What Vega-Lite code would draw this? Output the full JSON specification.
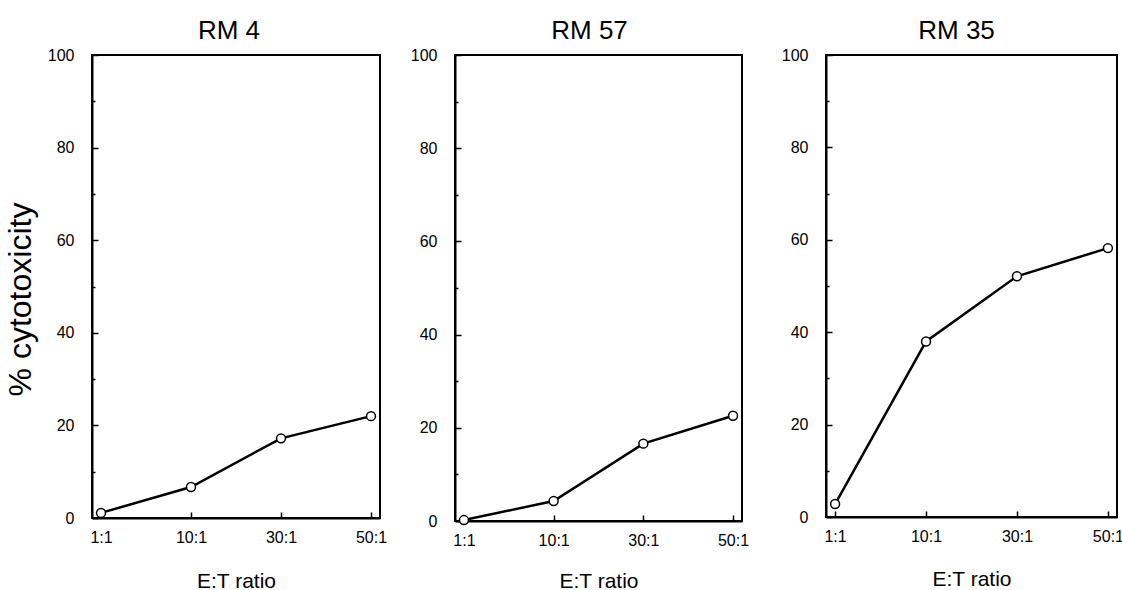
{
  "$schema": "https://vega.github.io/schema/vega-lite/v6.json",
  "background": "white",
  "padding": {"left": 3, "top": 17, "right": 0, "bottom": 0},
  "bounds": "flush",
  "config": {
    "font": "Liberation Sans",
    "view": {"stroke": "black", "strokeWidth": 2},
    "title": {"fontSize": 26, "fontWeight": "normal", "color": "black", "font": "Liberation Sans", "offset": 3},
    "axis": {
      "labelFont": "Liberation Sans",
      "titleFont": "Liberation Sans",
      "labelColor": "black",
      "titleColor": "black",
      "domainColor": "black",
      "tickColor": "black",
      "grid": false,
      "labelFontSize": 16,
      "titleFontWeight": "normal"
    }
  },
  "data": {
    "values": [
      {"cell": "RM 4", "ratio": "1:1", "cyto": 1.1},
      {"cell": "RM 4", "ratio": "10:1", "cyto": 6.7},
      {"cell": "RM 4", "ratio": "30:1", "cyto": 17.2},
      {"cell": "RM 4", "ratio": "50:1", "cyto": 22.0},
      {"cell": "RM 57", "ratio": "1:1", "cyto": 0.2},
      {"cell": "RM 57", "ratio": "10:1", "cyto": 4.3},
      {"cell": "RM 57", "ratio": "30:1", "cyto": 16.6},
      {"cell": "RM 57", "ratio": "50:1", "cyto": 22.6},
      {"cell": "RM 35", "ratio": "1:1", "cyto": 2.8},
      {"cell": "RM 35", "ratio": "10:1", "cyto": 38.0},
      {"cell": "RM 35", "ratio": "30:1", "cyto": 52.1},
      {"cell": "RM 35", "ratio": "50:1", "cyto": 58.2}
    ]
  },
  "spacing": 75,
  "hconcat": [
    {
      "width": 288,
      "height": 463,
      "title": {"text": "RM 4", "dx": -7},
      "transform": [{"filter": "datum.cell == 'RM 4'"}],
      "encoding": {
        "x": {"field": "ratio", "type": "ordinal", "sort": ["1:1", "10:1", "30:1", "50:1"], "scale": {"type": "point", "padding": 0.1},
          "axis": {"title": "E:T ratio", "titleFontSize": 21, "titlePadding": 25, "labelAngle": 0, "tickSize": -6, "tickWidth": 1.5, "domainWidth": 2, "labelPadding": 17, "labelFontSize": 16}},
        "y": {"field": "cyto", "type": "quantitative", "scale": {"domain": [0, 100], "nice": false},
          "axis": {"title": "% cytotoxicity", "titleFontSize": 32, "titlePadding": 10, "titleY": 244, "values": [0, 10, 20, 30, 40, 50, 60, 70, 80, 90, 100],
            "labelExpr": "datum.value % 20 == 0 ? datum.label : ''",
            "tickSize": {"condition": {"test": "datum.value % 20 != 0", "value": -3}, "value": -6},
            "tickWidth": 1.5, "domainWidth": 2, "labelPadding": 24, "labelFontSize": 16}}
      },
      "layer": [
        {"mark": {"type": "line", "color": "black", "strokeWidth": 2.5}},
        {"mark": {"type": "point", "shape": "circle", "size": 80, "filled": false, "fill": "white", "fillOpacity": 1, "color": "black", "strokeWidth": 1.5, "opacity": 1}}
      ]
    },
    {
      "spacing": 84,
      "bounds": "flush",
      "hconcat": [
        {
          "width": 287,
          "height": 466,
          "title": {"text": "RM 57", "dx": -9},
          "transform": [{"filter": "datum.cell == 'RM 57'"}],
          "encoding": {
            "x": {"field": "ratio", "type": "ordinal", "sort": ["1:1", "10:1", "30:1", "50:1"], "scale": {"type": "point", "padding": 0.1},
              "axis": {"title": "E:T ratio", "titleFontSize": 21, "titlePadding": 22, "labelAngle": 0, "tickSize": -6, "tickWidth": 1.5, "domainWidth": 2, "labelPadding": 17, "labelFontSize": 16}},
            "y": {"field": "cyto", "type": "quantitative", "scale": {"domain": [0, 100], "nice": false},
              "axis": {"title": null, "values": [0, 10, 20, 30, 40, 50, 60, 70, 80, 90, 100],
                "labelExpr": "datum.value % 20 == 0 ? datum.label : ''",
                "tickSize": {"condition": {"test": "datum.value % 20 != 0", "value": -3}, "value": -6},
                "tickWidth": 1.5, "domainWidth": 2, "labelPadding": 24, "labelFontSize": 16}}
          },
          "layer": [
            {"mark": {"type": "line", "color": "black", "strokeWidth": 2.5}},
            {"mark": {"type": "point", "shape": "circle", "size": 80, "filled": false, "fill": "white", "fillOpacity": 1, "color": "black", "strokeWidth": 1.5, "opacity": 1}}
          ]
        },
        {
          "width": 291,
          "height": 462,
          "title": {"text": "RM 35", "dx": -15},
          "transform": [{"filter": "datum.cell == 'RM 35'"}],
          "encoding": {
            "x": {"field": "ratio", "type": "ordinal", "sort": ["1:1", "10:1", "30:1", "50:1"], "scale": {"type": "point", "padding": 0.1},
              "axis": {"title": "E:T ratio", "titleFontSize": 21, "titlePadding": 24, "labelAngle": 0, "tickSize": -6, "tickWidth": 1.5, "domainWidth": 2, "labelPadding": 17, "labelFontSize": 16}},
            "y": {"field": "cyto", "type": "quantitative", "scale": {"domain": [0, 100], "nice": false},
              "axis": {"title": null, "values": [0, 10, 20, 30, 40, 50, 60, 70, 80, 90, 100],
                "labelExpr": "datum.value % 20 == 0 ? datum.label : ''",
                "tickSize": {"condition": {"test": "datum.value % 20 != 0", "value": -3}, "value": -6},
                "tickWidth": 1.5, "domainWidth": 2, "labelPadding": 24, "labelFontSize": 16}}
          },
          "layer": [
            {"mark": {"type": "line", "color": "black", "strokeWidth": 2.5}},
            {"mark": {"type": "point", "shape": "circle", "size": 80, "filled": false, "fill": "white", "fillOpacity": 1, "color": "black", "strokeWidth": 1.5, "opacity": 1}}
          ]
        }
      ]
    }
  ]
}
